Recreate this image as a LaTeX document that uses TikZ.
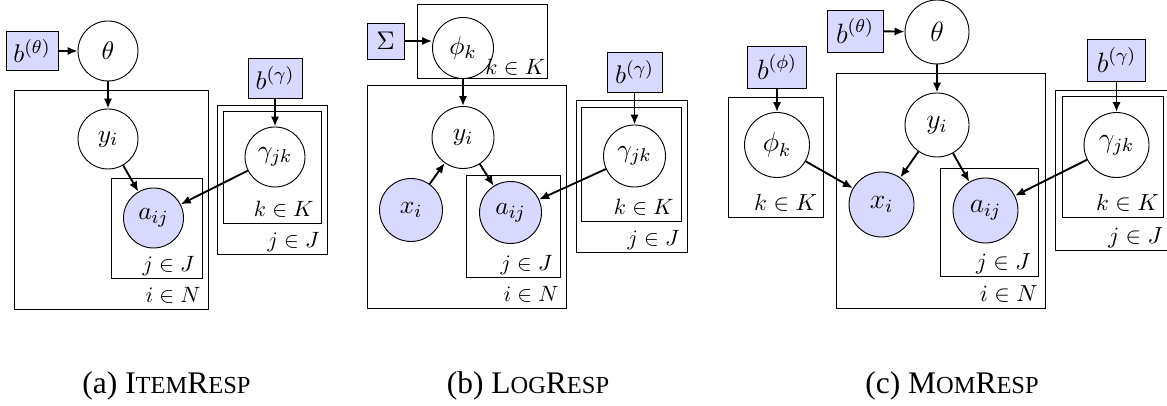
\documentclass[tikz,border=0pt]{standalone}
\usepackage{fontspec}
\newfontfamily\capfont{Liberation Serif}
\usetikzlibrary{arrows.meta,fit}
\definecolor{obsfill}{RGB}{217,217,255}
% one drawing unit
\newcommand\pxu{0.4292pt}
% text sizes of node contents and plate labels
\newcommand\nsz{10.95}
\newcommand\lsc{0.95}
% plate index label
\newcommand\plab[1]{\scalebox{\lsc}{$#1$}}
% hand-made small capitals for the captions
\newcommand\capsc[1]{{\fontsize{10.5}{12}\selectfont #1}}
\begin{document}
\begin{tikzpicture}[x=\pxu, y=-\pxu,
  latent/.style={circle, draw, line width=0.4pt, fill=white, inner sep=0pt,
    minimum size=#1*\pxu, font=\fontsize{\nsz}{\nsz}\selectfont},
  obs/.style={latent=#1, fill=obsfill},
  hyper/.style n args={2}{rectangle, draw, line width=0.4pt, fill=obsfill, inner sep=0pt,
    minimum width=#1*\pxu, minimum height=#2*\pxu, font=\fontsize{\nsz}{\nsz}\selectfont},
  plate/.style={rectangle, draw, line width=0.4pt, inner sep=0pt, outer sep=0pt},
  platelab/.style={anchor=base east, inner sep=0pt, xshift=-3pt, yshift=2.6pt,
    font=\fontsize{10}{10}\selectfont},
  edge/.style={-{Latex[length=4.3pt,width=3.6pt]}, line width=0.8pt},
  caption/.style={anchor=base, font=\capfont\fontsize{13.5}{15}\selectfont}]
\useasboundingbox (0,0) rectangle (1167,406);

% ---------------- (a) item response model ----------------
\node[plate, fit={(14,90) (208,309)}] (aN) {};
\node[plate, fit={(111,178) (202,278)}] (aJ) {};
\node[plate, fit={(217,105) (327,254)}] (aJ2) {};
\node[plate, fit={(223,111) (321,223)}] (aK) {};

\node[hyper={52}{39}] (abt) at (32,51) {$b^{(\theta)}$};
\node[latent=60] (ath) at (108,51) {$\theta$};
\node[latent=60] (ay) at (108,139) {$y_i$};
\node[obs=60] (aa) at (153.5,218) {$a_{ij}$};
\node[hyper={54}{40}] (abg) at (275,78) {$b^{(\gamma)}$};
\node[latent=60] (ag) at (275,157) {$\gamma_{jk}$};

\node[platelab] (aNl) at (aN.south east) {\plab{i\in N}};
\node[platelab] (aJl) at (aJ.south east) {\plab{j\in J}};
\node[platelab] (aJ2l) at (aJ2.south east) {\plab{j\in J}};
\node[platelab] (aKl) at (aK.south east) {\plab{k\in K}};

\draw[edge] (abt) -- (ath);
\draw[edge] (ath) -- (ay);
\draw[edge] (ay) -- (aa);
\draw[edge] (abg) -- (ag);
\draw[edge] (ag) -- (aa);

% ---------------- (b) logistic response model ----------------
\node[plate, fit={(417,4) (547,78)}] (bK) {};
\node[plate, fit={(367,85) (566,308)}] (bN) {};
\node[plate, fit={(466,175) (560,277)}] (bJ) {};
\node[plate, fit={(576,100) (687,252)}] (bJ2) {};
\node[plate, fit={(581,107) (681,221)}] (bK2) {};

\node[hyper={37}{36}] (bsig) at (385.5,41) {$\Sigma$};
\node[latent=61] (bphi) at (463,48) {$\phi_k$};
\node[latent=62] (by) at (463,137.5) {$y_i$};
\node[obs=63] (bx) at (411,210) {$x_i$};
\node[obs=62] (ba) at (510.5,212.5) {$a_{ij}$};
\node[hyper={55}{40}] (bbg) at (634.5,72) {$b^{(\gamma)}$};
\node[latent=62] (bg) at (634.5,156) {$\gamma_{jk}$};

\node[platelab, xshift=2.4pt, yshift=-0.9pt] (bKl) at (bK.south east) {\plab{k\in K}};
\node[platelab] (bNl) at (bN.south east) {\plab{i\in N}};
\node[platelab] (bJl) at (bJ.south east) {\plab{j\in J}};
\node[platelab] (bJ2l) at (bJ2.south east) {\plab{j\in J}};
\node[platelab] (bK2l) at (bK2.south east) {\plab{k\in K}};

\draw[edge] (bsig.east) -- (bsig.east -| bphi.west);
\draw[edge] (bphi) -- (by);
\draw[edge] (bx) -- (by);
\draw[edge] (by) -- (ba);
\draw[edge] (bbg) -- (bg);
\draw[edge] (bg) -- (ba);

% ---------------- (c) moment response model ----------------
\begin{scope}
\renewcommand\nsz{12}
\renewcommand\lsc{1}
\node[plate, fit={(728,97) (823,217)}] (cK) {};
\node[plate, fit={(836,73) (1045,308)}] (cN) {};
\node[plate, fit={(940,168) (1038,276)}] (cJ) {};
\node[plate, fit={(1055,90) (1168,250)}] (cJ2) {};
\node[plate, fit={(1062,96) (1163,217)}] (cK2) {};

\node[hyper={56}{42}] (cbt) at (855,31) {$b^{(\theta)}$};
\node[latent=64] (cth) at (937,32) {$\theta$};
\node[hyper={59}{42}] (cbp) at (777,67) {$b^{(\phi)}$};
\node[latent=65] (cphi) at (777,145) {$\phi_k$};
\node[latent=64] (cy) at (937,125) {$y_i$};
\node[obs=65] (cx) at (881.5,204.5) {$x_i$};
\node[obs=65] (ca) at (985.5,210.5) {$a_{ij}$};
\node[hyper={58}{42}] (cbg) at (1116.5,60) {$b^{(\gamma)}$};
\node[latent=65] (cg) at (1116.5,145) {$\gamma_{jk}$};

\node[platelab, xshift=0.6pt] (cKl) at (cK.south east) {\plab{k\in K}};
\node[platelab] (cNl) at (cN.south east) {\plab{i\in N}};
\node[platelab] (cJl) at (cJ.south east) {\plab{j\in J}};
\node[platelab, xshift=1pt] (cJ2l) at (cJ2.south east) {\plab{j\in J}};
\node[platelab, xshift=1.4pt] (cK2l) at (cK2.south east) {\plab{k\in K}};
\end{scope}

\draw[edge] (cbt) -- (cth);
\draw[edge] (cth) -- (cy);
\draw[edge] (cy) -- (cx);
\draw[edge] (cy) -- (ca);
\draw[edge] (cbp) -- (cphi);
\draw[edge] (cphi) -- (cx);
\draw[edge] (cbg) -- (cg);
\draw[edge] (cg) -- (ca);

% ---------------- captions ----------------
\node[caption] (capa) at (166.5,394) {(a) I\capsc{TEM}R\capsc{ESP}};
\node[caption] (capb) at (528,394) {(b) L\capsc{OG}R\capsc{ESP}};
\node[caption] (capc) at (952,394) {(c) M\capsc{OM}R\capsc{ESP}};
\end{tikzpicture}
\end{document}
